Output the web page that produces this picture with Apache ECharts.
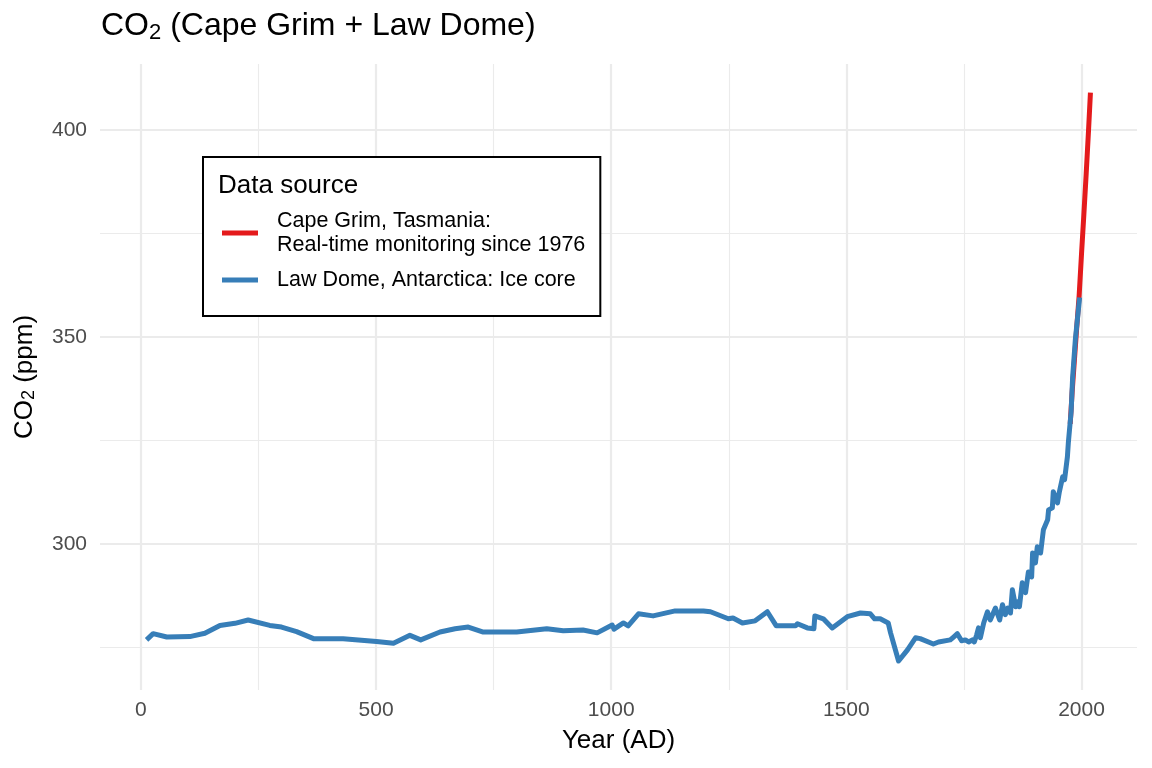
<!DOCTYPE html>
<html>
<head>
<meta charset="utf-8">
<script src="https://cdn.jsdelivr.net/npm/echarts@6.0.0/dist/echarts.min.js"></script>
<style>
html,body{margin:0;padding:0;background:#fff;}
#chart{width:1152px;height:768px;}
</style>
</head>
<body>
<div id="chart"></div>
<script>
// ---- data ----
const lawDomeYears = [12,26,55,104,136,168,200,228,274,299,331,367,430,501,537,572,595,636,668,696,728,799,863,898,940,970,1002,1006,1026,1036,1058,1089,1136,1196,1211,1249,1259,1279,1306,1332,1351,1392,1396,1417,1431,1433,1451,1470,1502,1530,1551,1560,1572,1589,1594,1611,1630,1647,1657,1685,1696,1721,1728,1736,1745,1753,1760,1768,1772,1777,1781,1785,1792,1800,1806,1817,1826,1832,1838,1843,1849,1853,1860,1864,1868,1874,1881,1887,1894,1896,1902,1906,1913,1919,1928,1930,1938,1940,1949,1953,1960,1964,1970,1972,1978,1981,1987,1992,1996];
const lawDomePpm = [276.8,278.3,277.5,277.6,278.4,280.3,280.8,281.6,280.3,279.9,278.8,277.1,277.1,276.4,276.0,277.9,276.8,278.7,279.5,279.9,278.7,278.7,279.5,279.0,279.2,278.5,280.4,279.4,280.9,280.2,283.1,282.6,283.8,283.8,283.6,281.9,282.1,280.9,281.4,283.6,280.2,280.2,280.7,279.7,279.5,282.6,281.9,279.7,282.4,283.3,283.1,281.9,281.9,280.9,278.5,271.7,274.4,277.3,277.1,275.8,276.3,276.8,277.5,278.3,276.6,276.8,276.3,276.8,276.3,278.0,279.7,277.3,280.9,283.6,281.6,284.5,281.6,285.3,282.9,284.5,283.3,288.9,284.8,286.0,284.8,290.6,288.2,293.2,292.0,297.8,295.4,299.3,297.8,303.4,305.8,308.2,308.7,312.6,309.9,312.6,316.2,315.5,321.0,324.4,332.0,340.0,349.5,355.0,359.5];
const capeGrimYears = [1976,1980,1985,1990,1995,2000,2005,2010,2015,2019];
const capeGrimPpm = [329.0,336.5,344.5,352.5,360.0,370.0,379.5,389.5,400.0,409.0];

const xMajor = [0,500,1000,1500,2000];
const xMinor = [250,750,1250,1750];
const yMajor = [300,350,400];
const yMinor = [275,325,375];

const nameCape = 'Cape Grim, Tasmania:\nReal-time monitoring since 1976';
const nameLaw = 'Law Dome, Antarctica: Ice core';

const FONT = '"Liberation Sans", Arial, Helvetica, sans-serif';
const GRID_COLOR = '#EBEBEB';

const lawData = lawDomeYears.map((y,i)=>[y, lawDomePpm[i]]);
const capeData = capeGrimYears.map((y,i)=>[y, capeGrimPpm[i]]);

const X_MIN = -87, X_MAX = 2118, Y_MIN = 264.7, Y_MAX = 415.9;

const chart = echarts.init(document.getElementById('chart'), null, {renderer:'canvas'});
chart.setOption({
  animation: false,
  backgroundColor: '#fff',
  textStyle: {fontFamily: FONT},
  title: [
    {
      text: 'CO{sub|2} (Cape Grim + Law Dome)',
      left: 101, top: 8, padding: 0,
      textStyle: {
        fontFamily: FONT, fontSize: 32, fontWeight: 'normal', color: '#000', lineHeight: 36,
        rich: { sub: {fontFamily: FONT, fontSize: 22, lineHeight: 20, verticalAlign: 'bottom', color: '#000'} }
      }
    },
    {
      text: 'Data source',
      left: 218, top: 171, padding: 0, z: 10,
      textStyle: {fontFamily: FONT, fontSize: 26, fontWeight: 'normal', color: '#000', lineHeight: 30}
    }
  ],
  grid: {left: 100, right: 15, top: 64, bottom: 78, containLabel: false},
  legend: {
    orient: 'vertical', left: 203, top: 157,
    padding: [52, 15, 24, 19],
    itemGap: 11,
    itemWidth: 36, itemHeight: 5,
    borderColor: '#000', borderWidth: 2, backgroundColor: '#fff',
    textStyle: {fontFamily: FONT, fontSize: 21.5, lineHeight: 24, color: '#000', padding: [0,0,0,14]},
    data: [{name: nameCape, icon: 'rect'}, {name: nameLaw, icon: 'rect'}]
  },
  xAxis: [
    {
      type: 'value', min: X_MIN, max: X_MAX,
      axisLine: {show: false}, axisTick: {show: false, customValues: xMajor},
      axisLabel: {customValues: xMajor, fontSize: 21, color: '#4D4D4D', margin: 10, fontFamily: FONT,
        formatter: v => String(v)},
      splitLine: {show: true, lineStyle: {color: GRID_COLOR, width: 2.2}},
      name: 'Year (AD)', nameLocation: 'middle', nameGap: 38,
      nameTextStyle: {fontSize: 26, color: '#000', fontFamily: FONT}
    },
    {
      type: 'value', min: X_MIN, max: X_MAX, position: 'bottom',
      axisLine: {show: false}, axisTick: {show: false, customValues: xMinor},
      axisLabel: {show: false, customValues: xMinor},
      splitLine: {show: true, lineStyle: {color: GRID_COLOR, width: 1.1}}
    }
  ],
  yAxis: [
    {
      type: 'value', min: Y_MIN, max: Y_MAX,
      axisLine: {show: false}, axisTick: {show: false, customValues: yMajor},
      axisLabel: {customValues: yMajor, fontSize: 21, color: '#4D4D4D', margin: 13, fontFamily: FONT,
        formatter: v => String(v)},
      splitLine: {show: true, lineStyle: {color: GRID_COLOR, width: 2.2}},
      name: 'CO{sub|2} (ppm)', nameLocation: 'middle', nameGap: 62, nameRotate: 90,
      nameTextStyle: {fontSize: 26, color: '#000', fontFamily: FONT,
        rich: {sub: {fontSize: 18, lineHeight: 17, verticalAlign: 'bottom', color: '#000', fontFamily: FONT}}}
    },
    {
      type: 'value', min: Y_MIN, max: Y_MAX, position: 'left',
      axisLine: {show: false}, axisTick: {show: false, customValues: yMinor},
      axisLabel: {show: false, customValues: yMinor},
      splitLine: {show: true, lineStyle: {color: GRID_COLOR, width: 1.1}}
    }
  ],
  series: [
    {
      name: nameCape, type: 'line', xAxisIndex: 0, yAxisIndex: 0,
      data: capeData, showSymbol: false, symbol: 'none',
      color: '#E41A1C', itemStyle: {color: '#E41A1C'},
      lineStyle: {color: '#E41A1C', width: 5, join: 'round', cap: 'butt'}
    },
    {
      name: nameLaw, type: 'line', xAxisIndex: 0, yAxisIndex: 0,
      data: lawData, showSymbol: false, symbol: 'none',
      color: '#377EB8', itemStyle: {color: '#377EB8'},
      lineStyle: {color: '#377EB8', width: 5, join: 'round', cap: 'butt'}
    }
  ]
});
</script>
</body>
</html>
